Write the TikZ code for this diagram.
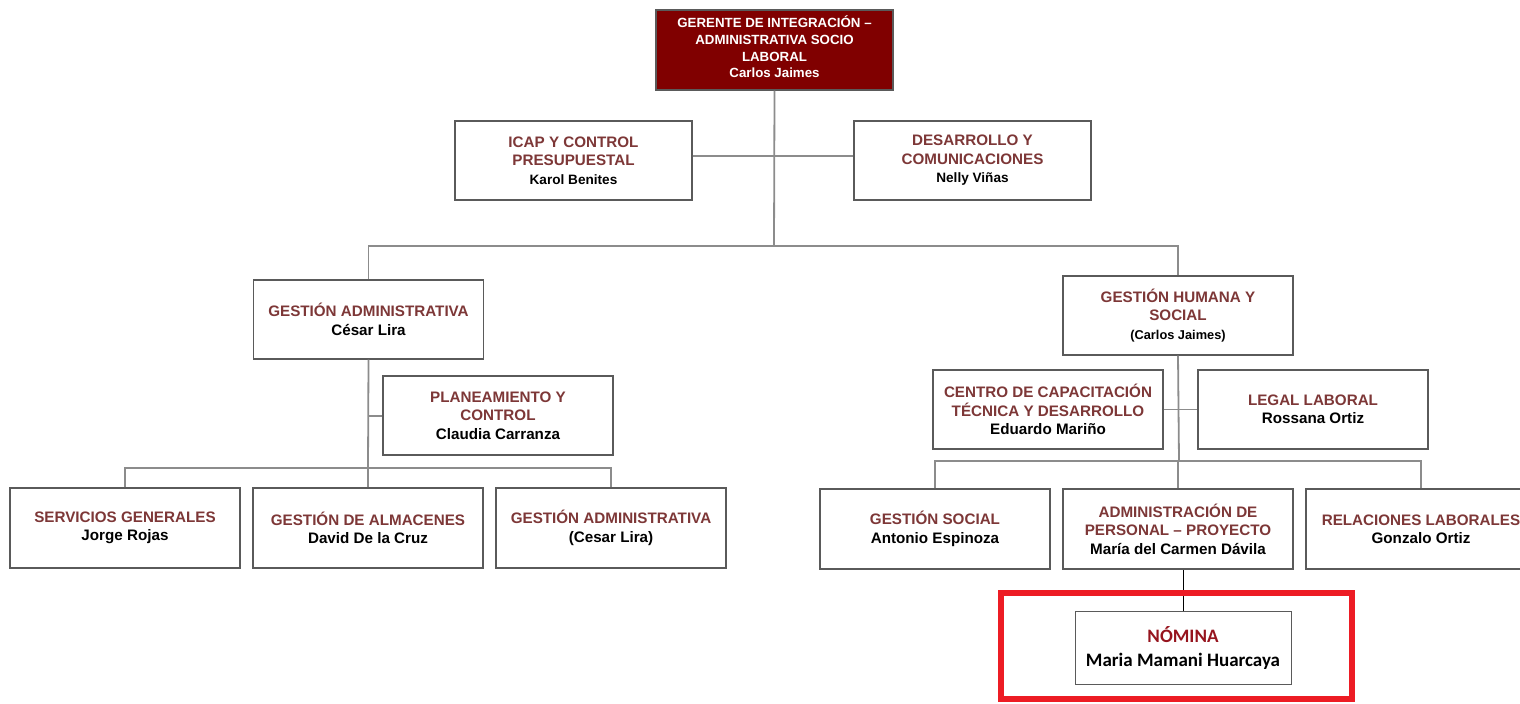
\documentclass[tikz,border=0pt]{standalone}
\usepackage{fontspec}
\setmainfont{Liberation Sans}
\newfontfamily\calib{Carlito}
\definecolor{ttl}{RGB}{125,55,55}
\definecolor{topfill}{RGB}{128,0,0}
\definecolor{bord}{RGB}{90,90,90}
\definecolor{conn}{RGB}{140,140,140}
\definecolor{redframe}{RGB}{237,28,36}
\definecolor{nomred}{RGB}{150,20,30}
\begin{document}
\begin{tikzpicture}[x=0.5pt,y=-0.5pt,
  box/.style={draw=bord,line width=0.6pt,fill=white,align=center,inner sep=1pt,
    font=\fontsize{7.6}{9.2}\selectfont\bfseries,minimum width=115pt,minimum height=39.5pt},
  topbox/.style={box,fill=topfill,draw=bord,text=white,minimum width=118.5pt,minimum height=40pt,
    font=\fontsize{6.65}{8.3}\selectfont\bfseries},
  wbox/.style={box,minimum width=118.5pt},
  lk/.style={draw=conn,line width=0.9pt},
]
\useasboundingbox (0,0) rectangle (1520,704);
\clip (0,0) rectangle (1520,704);

\coordinate (j1) at (774,246);
\coordinate (j2) at (368,468);
\coordinate (j3) at (1179,461);

\node[topbox] (top) at (774.5,50) {GERENTE DE INTEGRACIÓN –\\ADMINISTRATIVA SOCIO\\LABORAL\\Carlos Jaimes\\[-5.3pt]\mbox{}};
\node[wbox] (icap) at (573.5,160.5) {\textcolor{ttl}{ICAP Y CONTROL}\\\textcolor{ttl}{PRESUPUESTAL}\\{\fontsize{6.8}{9.2}\selectfont Karol Benites}};
\node[wbox] (des) at (972.5,160.5) {\textcolor{ttl}{DESARROLLO Y}\\\textcolor{ttl}{COMUNICACIONES}\\{\fontsize{6.8}{9.2}\selectfont Nelly Viñas}};

\node[box] (ga) at (368.5,319.5) {\textcolor{ttl}{GESTIÓN ADMINISTRATIVA}\\César Lira};
\node[box] (gh) at (1178,315.5) {\textcolor{ttl}{GESTIÓN HUMANA Y}\\\textcolor{ttl}{SOCIAL}\\{\fontsize{6.4}{9.2}\selectfont (Carlos Jaimes)}};

\node[box] (pl) at (498,415.5) {\textcolor{ttl}{PLANEAMIENTO Y}\\\textcolor{ttl}{CONTROL}\\Claudia Carranza};
\node[box] (cen) at (1048,409.5) {\textcolor{ttl}{CENTRO DE CAPACITACIÓN}\\\textcolor{ttl}{TÉCNICA Y DESARROLLO}\\Eduardo Mariño};
\node[box] (leg) at (1313,409.5) {\textcolor{ttl}{LEGAL LABORAL}\\Rossana Ortiz};

\node[box,minimum height=40pt] (sg) at (125,528) {\textcolor{ttl}{SERVICIOS GENERALES}\\Jorge Rojas};
\node[box,minimum height=40pt] (gda) at (368,528) {\textcolor{ttl}{GESTIÓN DE ALMACENES}\\David De la Cruz};
\node[box,minimum height=40pt] (ga2) at (611,528) {\textcolor{ttl}{GESTIÓN ADMINISTRATIVA}\\(Cesar Lira)};

\node[box,minimum height=40pt] (gs) at (935,529) {\textcolor{ttl}{GESTIÓN SOCIAL}\\Antonio Espinoza};
\node[box,minimum height=40pt] (adm) at (1178,529) {\textcolor{ttl}{ADMINISTRACIÓN DE}\\\textcolor{ttl}{PERSONAL – PROYECTO}\\María del Carmen Dávila};
\node[box,minimum height=40pt] (rel) at (1421,529) {\textcolor{ttl}{RELACIONES LABORALES}\\Gonzalo Ortiz};

\node[draw=bord,line width=0.5pt,align=center,minimum width=108pt,minimum height=36.5pt,
  font=\calib\fontsize{9.5}{12}\selectfont\bfseries] (nom) at (1183,648.5)
  {\textcolor{nomred}{NÓMINA}\\Maria Mamani Huarcaya};

\draw[lk] (top.south) -- (j1);
\draw[lk] ([yshift=2.25pt]icap.east) -- ([yshift=2.25pt]des.west);
\draw[lk] (ga.north) |- (j1) -| (gh.north);
\draw[lk] (ga.south) -- (j2);
\draw[lk] ([yshift=-0.25pt]pl.west) -- ([yshift=-0.25pt]pl.west -| ga.south);
\draw[lk] (sg.north) |- (j2) -| (ga2.north);
\draw[lk] (gda.north) -- (j2);
\draw[lk] (gh.south) -- (j3);
\draw[lk] (cen.east) -- (leg.west);
\draw[lk] (gs.north) |- (j3) -| (rel.north);
\draw[lk] (adm.north) -- (adm.north |- j3);
\draw[black,line width=0.5pt] (nom.north) -- (nom.north |- adm.south);

\draw[redframe,line width=3pt] (1001,593) rectangle (1352,699);
\end{tikzpicture}
\end{document}
